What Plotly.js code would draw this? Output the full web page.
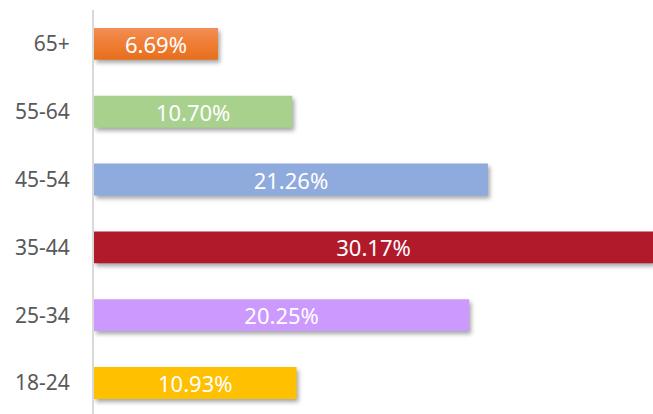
<!DOCTYPE html>
<html><head><meta charset="utf-8">
<script src="https://cdn.plot.ly/plotly-3.0.1.min.js"></script>
<style>html,body{margin:0;padding:0;background:#fff}#chart{width:653px;height:414px}</style>
</head><body><div id="chart"></div>
<script>
const categories = ["18-24","25-34","35-44","45-54","55-64","65+"];
const values = [10.93, 20.25, 30.17, 21.26, 10.70, 6.69];
const labels = ["10.93%","20.25%","30.17%","21.26%","10.70%","6.69%"];
const colors = ["#FFC000","#CC99FF","#B11A2B","#8FAADC","#A9D18E","#ED7D31"];

const trace = {
  type: "bar", orientation: "h",
  x: values, y: categories,
  text: labels, textposition: "inside", insidetextanchor: "middle", constraintext: "none",
  textfont: {color: "#ffffff", size: 22, family: "Noto Sans, sans-serif"},
  marker: {color: colors, line: {width: 0}},
  width: 0.47, hoverinfo: "none", cliponaxis: true
};
const layout = {
  width: 653, height: 414,
  margin: {l: 94, r: 0, t: 10, b: 0},
  paper_bgcolor: "#fff", plot_bgcolor: "#fff",
  showlegend: false,
  xaxis: {range: [0, 30.17], visible: false, fixedrange: true},
  yaxis: {type: "category", range: [-0.457, 5.5], showline: true, linecolor: "#d9d9d9", linewidth: 2,
          showgrid: false, zeroline: false, ticks: "", ticklabelstandoff: 18,
          tickfont: {color: "#595959", size: 21, family: "Noto Sans, sans-serif"}}
};
Plotly.newPlot("chart", [trace], layout, {staticPlot: true, displayModeBar: false}).then(function(){
  const svgNS = "http://www.w3.org/2000/svg";
  const defs = document.querySelector("#chart svg.main-svg defs");
  const grad = document.createElementNS(svgNS, "linearGradient");
  grad.setAttribute("id", "orangeGrad");
  grad.setAttribute("x1", "0"); grad.setAttribute("y1", "0");
  grad.setAttribute("x2", "0"); grad.setAttribute("y2", "1");
  [["0", "#F28E55"], ["0.5", "#EF7D33"], ["1", "#E76F1C"]].forEach(function(s){
    const st = document.createElementNS(svgNS, "stop");
    st.setAttribute("offset", s[0]); st.setAttribute("stop-color", s[1]);
    grad.appendChild(st);
  });
  defs.appendChild(grad);
  const paths = document.querySelectorAll(".bars .point path");
  paths.forEach(function(p, i){
    p.style.filter = "drop-shadow(2px 3px 2px rgba(0,0,0,0.35))";
    if (categories[i] === "65+") p.style.fill = "url(#orangeGrad)";
  });
});
</script></body></html>
